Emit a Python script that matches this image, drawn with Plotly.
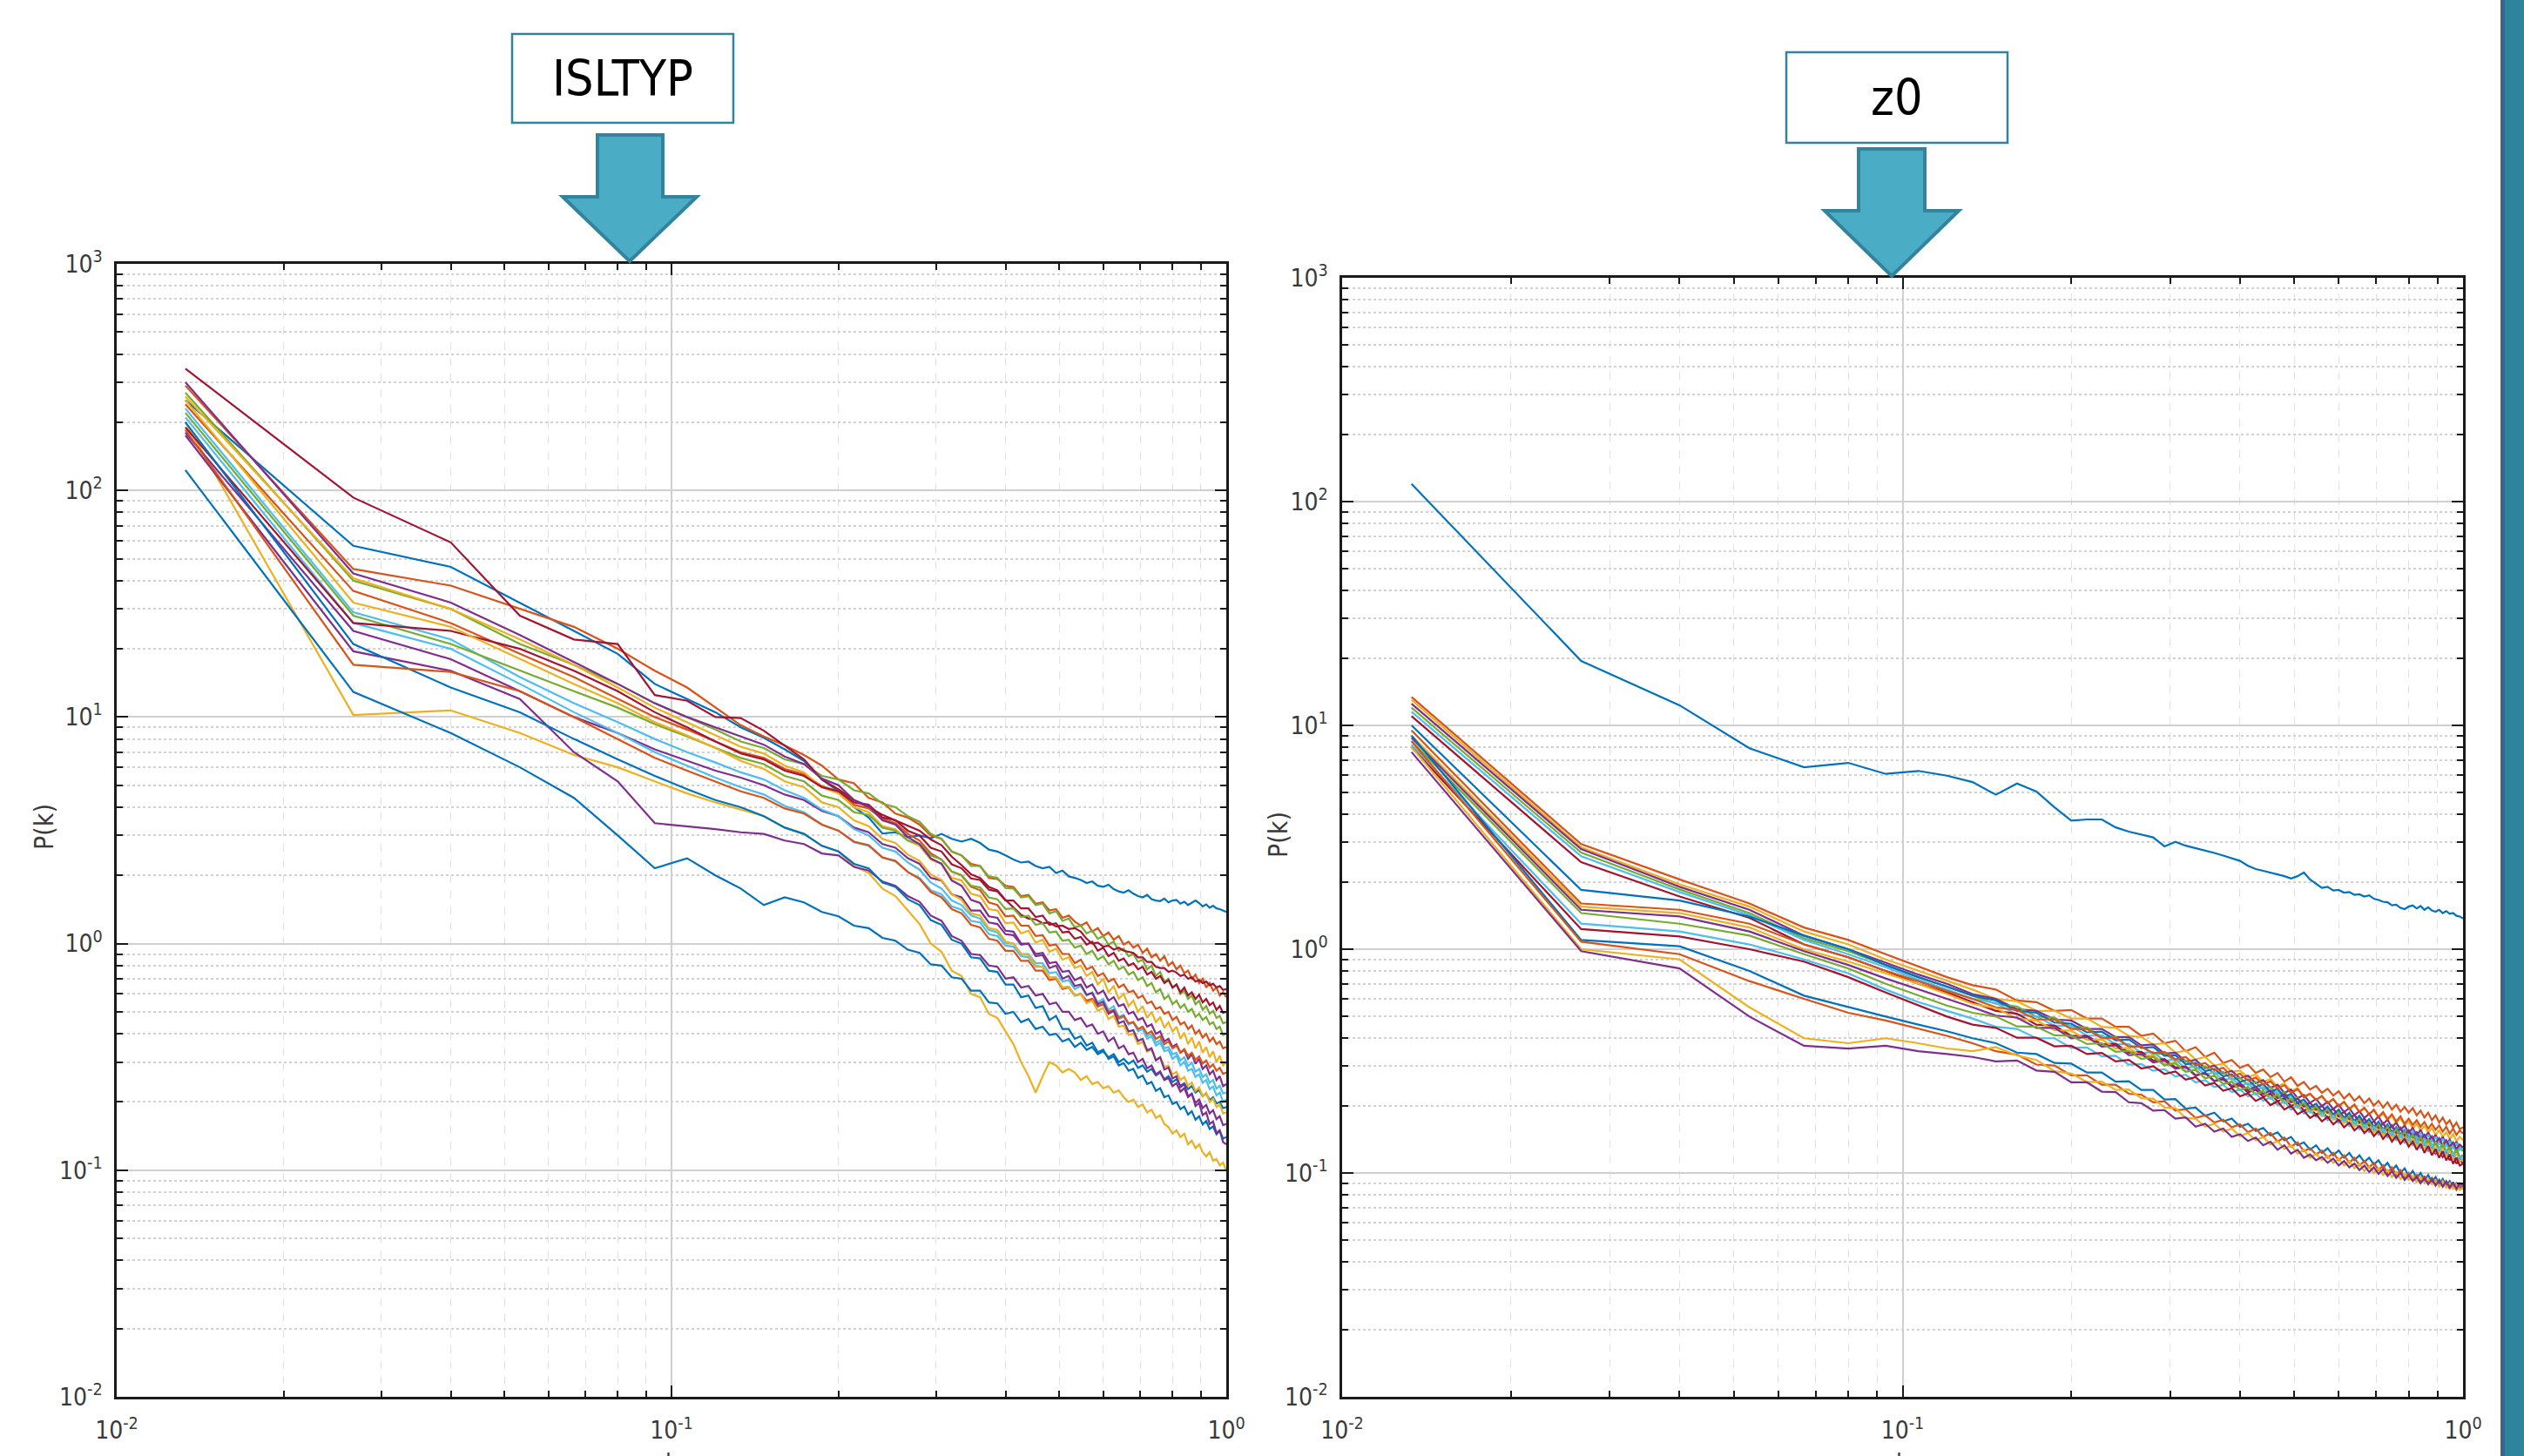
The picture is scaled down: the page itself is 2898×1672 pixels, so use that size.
import plotly.graph_objects as go

# ---------------------------------------------------------------- data
# wavenumber grid shared by every spectrum
k = [0.0133, 0.0267, 0.04, 0.0533, 0.0667, 0.08, 0.0933, 0.1067, 0.12, 0.1333,
     0.1467, 0.16, 0.1733, 0.1867, 0.2, 0.2133, 0.2267, 0.24, 0.2533, 0.2667,
     0.28, 0.2933, 0.3067, 0.32, 0.3333, 0.3467, 0.36, 0.3733, 0.3867, 0.4,
     0.4133, 0.4267, 0.44, 0.4533, 0.4667, 0.48, 0.4933, 0.5067, 0.52, 0.5333,
     0.5467, 0.56, 0.5733, 0.5867, 0.6, 0.6133, 0.6267, 0.64, 0.6533, 0.6667,
     0.68, 0.6933, 0.7067, 0.72, 0.7333, 0.7467, 0.76, 0.7733, 0.7867, 0.8,
     0.8133, 0.8267, 0.84, 0.8533, 0.8667, 0.88, 0.8933, 0.9067, 0.92, 0.9333,
     0.9467, 0.96, 0.9733, 0.9867, 1.0]

# P(k) spectra, ISLTYP perturbation members
isltyp_01 = [250, 57, 46, 32, 24, 19, 14, 12, 10.5, 9.0,
             8.1, 7.2, 6.4, 5.3, 4.7, 4.0, 3.6, 3.06, 3.1, 2.95,
             3.0, 2.92, 3.05, 2.9, 2.82, 2.9, 2.78, 2.6, 2.55, 2.45,
             2.35, 2.28, 2.3, 2.2, 2.15, 2.18, 2.05, 2.1, 1.98, 1.95,
             1.91, 1.85, 1.88, 1.8, 1.78, 1.82, 1.74, 1.7, 1.68, 1.72,
             1.66, 1.62, 1.6, 1.64, 1.57, 1.55, 1.54, 1.58, 1.52, 1.55,
             1.56, 1.5, 1.53, 1.48, 1.52, 1.55, 1.51, 1.46, 1.49, 1.44,
             1.47, 1.43, 1.42, 1.4, 1.38]
isltyp_02 = [290, 45, 38, 30, 25, 20, 16, 13.5, 11, 9.2,
             8.2, 7.5, 6.8, 6.1, 5.3, 5.1, 4.4, 4.2, 3.75, 3.6,
             3.35, 3.0, 2.9, 2.55, 2.45, 2.25, 2.2, 1.95, 1.93, 1.8,
             1.78, 1.62, 1.64, 1.5, 1.52, 1.4, 1.42, 1.3, 1.33, 1.25,
             1.2, 1.24, 1.13, 1.17, 1.08, 1.12, 1.04, 1.08, 0.99, 1.02,
             0.96, 0.99, 0.91, 0.95, 0.87, 0.9, 0.84, 0.88, 0.8, 0.83,
             0.77, 0.8, 0.74, 0.76, 0.7, 0.73, 0.67, 0.7, 0.64, 0.67,
             0.62, 0.64, 0.59, 0.61, 0.58]
isltyp_03 = [200, 10.2, 10.7, 8.5, 6.8, 6.0, 5.2, 4.6, 4.2, 3.9,
             3.65, 3.25, 3.05, 2.7, 2.55, 2.2, 2.05, 1.75, 1.62, 1.4,
             1.22, 1.0, 0.92, 0.76, 0.72, 0.6, 0.58, 0.49, 0.47, 0.41,
             0.36, 0.3, 0.26, 0.22, 0.26, 0.3, 0.29, 0.27, 0.28, 0.27,
             0.25, 0.26, 0.24, 0.245, 0.23, 0.235, 0.22, 0.225, 0.21, 0.2,
             0.205, 0.19, 0.195, 0.18, 0.185, 0.17, 0.175, 0.16, 0.155, 0.145,
             0.15, 0.14, 0.145, 0.13, 0.135, 0.125, 0.13, 0.12, 0.115, 0.12,
             0.11, 0.112, 0.105, 0.108, 0.1]
isltyp_04 = [180, 24, 18, 13, 10, 8.5, 7.2, 6.4, 5.8, 5.4,
             5.0, 4.55, 4.3, 3.85, 3.65, 3.25, 3.1, 2.75, 2.65, 2.38,
             2.25, 1.95, 1.9, 1.65, 1.6, 1.4, 1.4, 1.24, 1.22, 1.1,
             1.09, 0.99, 1.0, 0.9, 0.91, 0.82, 0.83, 0.75, 0.76, 0.69,
             0.71, 0.64, 0.66, 0.6, 0.62, 0.56, 0.58, 0.53, 0.54, 0.49,
             0.5, 0.46, 0.47, 0.43, 0.44, 0.4, 0.41, 0.37, 0.38, 0.35,
             0.36, 0.33, 0.34, 0.31, 0.325, 0.295, 0.31, 0.28, 0.29, 0.265,
             0.275, 0.25, 0.26, 0.235, 0.24]
isltyp_05 = [270, 40, 30, 21, 17, 14, 11.5, 10, 8.8, 7.8,
             7.3, 6.5, 6.2, 5.5, 5.3, 4.75, 4.6, 4.15, 4.0, 3.65,
             3.45, 3.05, 2.9, 2.55, 2.45, 2.2, 2.2, 1.98, 1.95, 1.76,
             1.75, 1.6, 1.62, 1.48, 1.5, 1.36, 1.39, 1.26, 1.29, 1.18,
             1.2, 1.11, 1.14, 1.05, 1.08, 0.99, 1.02, 0.93, 0.95, 0.88,
             0.9, 0.83, 0.85, 0.77, 0.8, 0.72, 0.75, 0.68, 0.7, 0.64,
             0.66, 0.6, 0.62, 0.57, 0.59, 0.54, 0.56, 0.51, 0.53, 0.49,
             0.505, 0.47, 0.48, 0.445, 0.45]
isltyp_06 = [230, 29, 22, 15, 11.5, 9.5, 8, 7, 6.3, 5.7,
             5.3, 4.75, 4.4, 3.9, 3.65, 3.2, 3.0, 2.65, 2.55, 2.28,
             2.12, 1.86, 1.75, 1.55, 1.48, 1.33, 1.29, 1.15, 1.12, 1.01,
             1.0, 0.9, 0.9, 0.82, 0.82, 0.74, 0.75, 0.68, 0.69, 0.63,
             0.65, 0.59, 0.61, 0.55, 0.57, 0.51, 0.53, 0.475, 0.485, 0.44,
             0.45, 0.41, 0.42, 0.38, 0.39, 0.355, 0.365, 0.335, 0.34, 0.31,
             0.32, 0.29, 0.3, 0.275, 0.28, 0.258, 0.265, 0.243, 0.25, 0.228,
             0.234, 0.214, 0.22, 0.2, 0.205]
isltyp_07 = [345, 93, 59, 28, 22, 21, 12.5, 11.8, 10, 9.9,
             8.7, 7.5, 6.5, 5.3, 4.8, 4.3, 4.0, 3.7, 3.5, 3.3,
             3.15, 2.88, 2.72, 2.42, 2.22, 2.02, 1.95, 1.78, 1.72, 1.56,
             1.44, 1.34, 1.29, 1.28, 1.23, 1.24, 1.19, 1.2, 1.16, 1.17,
             1.13, 1.05, 1.0, 1.01, 0.97, 0.98, 0.94, 0.96, 0.93, 0.92,
             0.91, 0.87, 0.87, 0.83, 0.83, 0.79, 0.78, 0.78, 0.75, 0.76,
             0.745, 0.72, 0.73, 0.7, 0.71, 0.68, 0.69, 0.67, 0.68, 0.655,
             0.665, 0.64, 0.65, 0.625, 0.63]
isltyp_08 = [123, 12.9, 8.5, 6.0, 4.4, 3.0, 2.15, 2.38, 2.0, 1.75,
             1.48, 1.6, 1.52, 1.38, 1.32, 1.2, 1.17, 1.06, 1.03, 0.94,
             0.91, 0.81, 0.8, 0.71, 0.7, 0.62, 0.62, 0.55, 0.545, 0.49,
             0.5, 0.45, 0.465, 0.42, 0.43, 0.395, 0.4, 0.37, 0.38, 0.35,
             0.365, 0.34, 0.35, 0.325, 0.335, 0.315, 0.325, 0.3, 0.31, 0.295,
             0.305, 0.283, 0.29, 0.272, 0.28, 0.262, 0.27, 0.252, 0.26, 0.245,
             0.252, 0.236, 0.242, 0.228, 0.235, 0.22, 0.226, 0.212, 0.218, 0.204,
             0.21, 0.197, 0.2, 0.188, 0.19]
isltyp_09 = [240, 36, 26, 19, 15, 12, 10, 8.8, 7.8, 7.0,
             6.6, 5.9, 5.6, 4.95, 4.7, 4.1, 3.95, 3.55, 3.4, 3.05,
             2.85, 2.5, 2.35, 2.08, 2.0, 1.78, 1.72, 1.52, 1.48, 1.32,
             1.33, 1.2, 1.2, 1.08, 1.09, 0.98, 0.99, 0.9, 0.9, 0.82,
             0.85, 0.77, 0.79, 0.72, 0.74, 0.68, 0.7, 0.64, 0.66, 0.61,
             0.62, 0.575, 0.59, 0.545, 0.555, 0.515, 0.525, 0.49, 0.5, 0.46,
             0.475, 0.44, 0.45, 0.42, 0.435, 0.4, 0.415, 0.385, 0.4, 0.37,
             0.385, 0.36, 0.37, 0.345, 0.35]
isltyp_10 = [260, 41, 30, 22, 17, 13.5, 11, 9.5, 8.3, 7.4,
             6.9, 6.1, 5.7, 4.9, 4.6, 4.0, 3.8, 3.3, 3.2, 2.85,
             2.7, 2.35, 2.25, 1.95, 1.9, 1.66, 1.62, 1.42, 1.4, 1.23,
             1.24, 1.11, 1.14, 1.01, 1.04, 0.92, 0.95, 0.85, 0.87, 0.78,
             0.8, 0.72, 0.75, 0.66, 0.7, 0.61, 0.65, 0.57, 0.6, 0.53,
             0.56, 0.5, 0.53, 0.47, 0.5, 0.45, 0.475, 0.425, 0.45, 0.41,
             0.43, 0.38, 0.405, 0.36, 0.385, 0.345, 0.37, 0.33, 0.35, 0.315,
             0.335, 0.3, 0.32, 0.29, 0.3]
isltyp_11 = [175, 19.5, 16, 12, 7, 5.2, 3.4, 3.3, 3.2, 3.1,
             3.05, 2.85, 2.75, 2.5, 2.45, 2.18, 2.1, 1.88, 1.8, 1.62,
             1.53, 1.33, 1.26, 1.08, 1.03, 0.9, 0.89, 0.8, 0.79, 0.7,
             0.71, 0.64, 0.65, 0.59, 0.6, 0.54, 0.55, 0.5, 0.5, 0.46,
             0.47, 0.43, 0.44, 0.4, 0.41, 0.37, 0.385, 0.345, 0.355, 0.325,
             0.33, 0.3, 0.31, 0.282, 0.29, 0.265, 0.273, 0.25, 0.255, 0.235,
             0.242, 0.222, 0.23, 0.21, 0.217, 0.198, 0.205, 0.188, 0.194, 0.178,
             0.184, 0.168, 0.173, 0.158, 0.16]
isltyp_12 = [220, 28, 21, 16, 13, 11, 9.3, 8.2, 7.3, 6.6,
             6.2, 5.5, 5.2, 4.5, 4.3, 3.8, 3.7, 3.25, 3.15, 2.85,
             2.75, 2.45, 2.35, 2.08, 2.0, 1.8, 1.77, 1.6, 1.57, 1.42,
             1.43, 1.31, 1.33, 1.21, 1.23, 1.12, 1.13, 1.03, 1.04, 0.96,
             0.98, 0.9, 0.93, 0.85, 0.88, 0.81, 0.84, 0.77, 0.79, 0.73,
             0.75, 0.69, 0.71, 0.65, 0.67, 0.61, 0.63, 0.57, 0.59, 0.54,
             0.56, 0.52, 0.54, 0.5, 0.515, 0.475, 0.49, 0.46, 0.475, 0.44,
             0.45, 0.42, 0.43, 0.395, 0.4]
isltyp_13 = [210, 26, 20, 14, 10.5, 8.5, 7, 6.1, 5.4, 4.9,
             4.55, 4.05, 3.8, 3.35, 3.15, 2.8, 2.7, 2.4, 2.3, 2.07,
             1.95, 1.72, 1.65, 1.46, 1.41, 1.26, 1.24, 1.1, 1.08, 0.98,
             0.97, 0.88, 0.87, 0.79, 0.79, 0.71, 0.71, 0.64, 0.645, 0.59,
             0.6, 0.555, 0.57, 0.525, 0.54, 0.495, 0.51, 0.465, 0.475, 0.44,
             0.45, 0.415, 0.42, 0.39, 0.4, 0.365, 0.375, 0.345, 0.35, 0.325,
             0.33, 0.305, 0.315, 0.288, 0.298, 0.272, 0.28, 0.258, 0.265, 0.243,
             0.25, 0.229, 0.236, 0.218, 0.22]
isltyp_14 = [190, 26, 24, 20, 16, 13, 10.5, 9, 7.8, 6.9,
             6.5, 5.8, 5.5, 4.9, 4.7, 4.2, 4.1, 3.6, 3.5, 3.15,
             3.0, 2.65, 2.55, 2.24, 2.15, 1.94, 1.91, 1.73, 1.7, 1.55,
             1.55, 1.43, 1.43, 1.31, 1.33, 1.21, 1.23, 1.12, 1.13, 1.05,
             1.07, 0.99, 1.02, 0.93, 0.96, 0.88, 0.91, 0.84, 0.86, 0.8,
             0.82, 0.77, 0.79, 0.73, 0.75, 0.7, 0.72, 0.67, 0.69, 0.64,
             0.66, 0.61, 0.64, 0.59, 0.61, 0.57, 0.595, 0.55, 0.57, 0.535,
             0.55, 0.51, 0.53, 0.495, 0.5]
isltyp_15 = [200, 21, 13.5, 10.5, 8, 6.5, 5.5, 4.8, 4.3, 4.0,
             3.65, 3.25, 3.05, 2.7, 2.55, 2.25, 2.15, 1.86, 1.78, 1.57,
             1.48, 1.27, 1.21, 1.04, 1.0, 0.87, 0.86, 0.76, 0.75, 0.66,
             0.66, 0.58, 0.59, 0.52, 0.53, 0.46, 0.48, 0.42, 0.42, 0.38,
             0.39, 0.355, 0.365, 0.332, 0.34, 0.31, 0.318, 0.29, 0.297, 0.275,
             0.28, 0.255, 0.262, 0.24, 0.245, 0.224, 0.23, 0.21, 0.214, 0.196,
             0.2, 0.186, 0.191, 0.176, 0.182, 0.167, 0.173, 0.159, 0.165, 0.152,
             0.156, 0.144, 0.149, 0.138, 0.14]
isltyp_16 = [185, 17, 15.8, 13, 10, 8, 6.6, 5.8, 5.2, 4.7,
             4.4, 3.95, 3.75, 3.35, 3.15, 2.82, 2.72, 2.4, 2.32, 2.07,
             1.93, 1.69, 1.6, 1.42, 1.36, 1.21, 1.18, 1.05, 1.03, 0.93,
             0.93, 0.84, 0.84, 0.76, 0.76, 0.69, 0.7, 0.63, 0.64, 0.59,
             0.6, 0.56, 0.57, 0.53, 0.54, 0.5, 0.51, 0.47, 0.48, 0.445,
             0.45, 0.42, 0.43, 0.4, 0.41, 0.38, 0.39, 0.36, 0.37, 0.345,
             0.355, 0.33, 0.342, 0.32, 0.33, 0.307, 0.318, 0.296, 0.305, 0.284,
             0.293, 0.275, 0.283, 0.266, 0.27]
isltyp_17 = [250, 32, 25, 18, 14, 11.5, 9.5, 8.3, 7.3, 6.4,
             5.9, 5.2, 4.9, 4.2, 4.0, 3.5, 3.3, 2.9, 2.78, 2.47,
             2.32, 2.02, 1.91, 1.65, 1.56, 1.36, 1.33, 1.17, 1.15, 1.02,
             1.0, 0.9, 0.89, 0.8, 0.79, 0.71, 0.71, 0.64, 0.645, 0.59,
             0.6, 0.545, 0.56, 0.505, 0.52, 0.465, 0.48, 0.43, 0.435, 0.395,
             0.4, 0.36, 0.368, 0.333, 0.34, 0.308, 0.315, 0.286, 0.29, 0.265,
             0.272, 0.25, 0.258, 0.236, 0.244, 0.224, 0.232, 0.212, 0.22, 0.2,
             0.207, 0.19, 0.195, 0.178, 0.18]
isltyp_18 = [300, 43, 32, 23, 17.5, 14, 11.5, 10, 9, 8.2,
             7.55, 6.7, 6.2, 5.35, 5.0, 4.3, 4.05, 3.5, 3.35, 2.95,
             2.75, 2.38, 2.25, 1.9, 1.8, 1.56, 1.51, 1.32, 1.3, 1.14,
             1.13, 1.0, 1.0, 0.88, 0.89, 0.78, 0.8, 0.7, 0.72, 0.65,
             0.66, 0.595, 0.605, 0.54, 0.555, 0.49, 0.505, 0.445, 0.455, 0.41,
             0.415, 0.372, 0.38, 0.338, 0.345, 0.305, 0.315, 0.278, 0.284, 0.254,
             0.26, 0.232, 0.24, 0.212, 0.218, 0.192, 0.198, 0.175, 0.18, 0.16,
             0.164, 0.146, 0.15, 0.133, 0.13]

# P(k) spectra, z0 perturbation members
z0_00 = [120, 19.4, 12.3, 7.9, 6.5, 6.8, 6.07, 6.26, 5.96, 5.58,
         4.9, 5.5, 5.06, 4.3, 3.75, 3.8, 3.8, 3.5, 3.35, 3.25,
         3.16, 2.88, 3.02, 2.9, 2.83, 2.76, 2.69, 2.62, 2.55, 2.48,
         2.36, 2.28, 2.24, 2.2, 2.17, 2.12, 2.07, 2.12, 2.2, 2.05,
         1.96, 1.88, 1.9, 1.83, 1.84, 1.79, 1.8, 1.75, 1.76, 1.72,
         1.74, 1.68, 1.66, 1.63, 1.62, 1.57, 1.58, 1.53, 1.51, 1.55,
         1.57, 1.52, 1.56, 1.5, 1.54, 1.49, 1.47, 1.5, 1.45, 1.48,
         1.44, 1.45, 1.41, 1.4, 1.37]
z0_01 = [13.4, 2.95, 2.05, 1.6, 1.25, 1.1, 0.95, 0.84, 0.75, 0.69,
         0.66, 0.59, 0.58, 0.53, 0.535, 0.49, 0.49, 0.45, 0.45, 0.41,
         0.42, 0.38, 0.39, 0.35, 0.365, 0.33, 0.345, 0.31, 0.32, 0.295,
         0.305, 0.28, 0.29, 0.268, 0.28, 0.256, 0.268, 0.245, 0.255, 0.236,
         0.245, 0.228, 0.238, 0.222, 0.232, 0.215, 0.226, 0.21, 0.22, 0.205,
         0.215, 0.2, 0.21, 0.196, 0.207, 0.192, 0.202, 0.188, 0.197, 0.186,
         0.195, 0.181, 0.19, 0.177, 0.186, 0.172, 0.181, 0.168, 0.177, 0.165,
         0.172, 0.16, 0.168, 0.157, 0.16]
z0_02 = [13, 2.85, 1.95, 1.55, 1.2, 1.05, 0.9, 0.8, 0.72, 0.66,
         0.6, 0.585, 0.53, 0.53, 0.49, 0.49, 0.45, 0.445, 0.41, 0.405,
         0.375, 0.38, 0.345, 0.352, 0.322, 0.33, 0.302, 0.308, 0.283, 0.287,
         0.268, 0.276, 0.255, 0.263, 0.243, 0.252, 0.232, 0.24, 0.22, 0.226,
         0.212, 0.22, 0.205, 0.214, 0.198, 0.208, 0.193, 0.202, 0.187, 0.195,
         0.183, 0.19, 0.177, 0.185, 0.172, 0.18, 0.167, 0.176, 0.163, 0.17,
         0.158, 0.166, 0.155, 0.162, 0.152, 0.159, 0.148, 0.155, 0.145, 0.152,
         0.142, 0.149, 0.139, 0.145, 0.14]
z0_03 = [12.5, 2.8, 1.9, 1.5, 1.15, 1.0, 0.87, 0.77, 0.7, 0.63,
         0.6, 0.54, 0.53, 0.485, 0.48, 0.44, 0.44, 0.405, 0.405, 0.372,
         0.375, 0.342, 0.345, 0.315, 0.32, 0.294, 0.302, 0.279, 0.286, 0.265,
         0.272, 0.252, 0.26, 0.24, 0.248, 0.228, 0.236, 0.216, 0.223, 0.206,
         0.214, 0.199, 0.208, 0.193, 0.202, 0.187, 0.195, 0.181, 0.189, 0.176,
         0.184, 0.17, 0.179, 0.165, 0.173, 0.16, 0.168, 0.156, 0.163, 0.151,
         0.159, 0.147, 0.156, 0.143, 0.152, 0.14, 0.148, 0.137, 0.145, 0.134,
         0.141, 0.131, 0.138, 0.128, 0.13]
z0_04 = [12, 2.7, 1.85, 1.45, 1.12, 0.98, 0.85, 0.75, 0.68, 0.62,
         0.57, 0.555, 0.5, 0.495, 0.45, 0.447, 0.405, 0.405, 0.368, 0.367,
         0.34, 0.343, 0.316, 0.318, 0.293, 0.299, 0.277, 0.283, 0.262, 0.266,
         0.248, 0.255, 0.236, 0.243, 0.224, 0.23, 0.212, 0.218, 0.2, 0.206,
         0.192, 0.2, 0.186, 0.194, 0.179, 0.188, 0.174, 0.182, 0.168, 0.175,
         0.163, 0.171, 0.159, 0.167, 0.155, 0.163, 0.151, 0.159, 0.147, 0.155,
         0.144, 0.151, 0.14, 0.147, 0.137, 0.144, 0.134, 0.141, 0.131, 0.137,
         0.128, 0.134, 0.124, 0.13, 0.125]
z0_05 = [11.5, 2.6, 1.8, 1.42, 1.1, 0.95, 0.83, 0.73, 0.66, 0.6,
         0.575, 0.51, 0.5, 0.455, 0.455, 0.41, 0.412, 0.375, 0.377, 0.343,
         0.347, 0.317, 0.322, 0.293, 0.3, 0.275, 0.282, 0.259, 0.266, 0.245,
         0.252, 0.234, 0.242, 0.224, 0.232, 0.214, 0.222, 0.205, 0.212, 0.196,
         0.203, 0.189, 0.197, 0.183, 0.191, 0.177, 0.185, 0.171, 0.179, 0.166,
         0.174, 0.161, 0.17, 0.157, 0.165, 0.153, 0.161, 0.149, 0.157, 0.146,
         0.154, 0.142, 0.151, 0.139, 0.148, 0.137, 0.145, 0.134, 0.142, 0.131,
         0.139, 0.128, 0.136, 0.127, 0.13]
z0_06 = [11, 2.45, 1.72, 1.38, 1.05, 0.92, 0.8, 0.7, 0.64, 0.58,
         0.53, 0.515, 0.46, 0.455, 0.41, 0.41, 0.376, 0.378, 0.345, 0.348,
         0.318, 0.323, 0.296, 0.299, 0.273, 0.279, 0.257, 0.263, 0.242, 0.246,
         0.229, 0.236, 0.219, 0.226, 0.209, 0.216, 0.199, 0.206, 0.19, 0.195,
         0.182, 0.189, 0.176, 0.183, 0.17, 0.177, 0.164, 0.171, 0.158, 0.165,
         0.153, 0.161, 0.149, 0.157, 0.145, 0.153, 0.141, 0.149, 0.137, 0.144,
         0.134, 0.14, 0.13, 0.136, 0.126, 0.132, 0.122, 0.128, 0.118, 0.124,
         0.114, 0.12, 0.11, 0.115, 0.11]
z0_07 = [10, 1.84, 1.65, 1.4, 1.15, 1.0, 0.85, 0.75, 0.68, 0.62,
         0.59, 0.53, 0.52, 0.47, 0.465, 0.425, 0.428, 0.392, 0.395, 0.362,
         0.365, 0.334, 0.336, 0.306, 0.31, 0.285, 0.292, 0.27, 0.276, 0.255,
         0.262, 0.242, 0.25, 0.23, 0.238, 0.218, 0.226, 0.206, 0.213, 0.196,
         0.204, 0.188, 0.198, 0.182, 0.192, 0.176, 0.186, 0.17, 0.18, 0.166,
         0.174, 0.16, 0.169, 0.155, 0.164, 0.15, 0.159, 0.146, 0.154, 0.142,
         0.149, 0.137, 0.146, 0.133, 0.142, 0.13, 0.138, 0.127, 0.135, 0.124,
         0.131, 0.12, 0.127, 0.117, 0.12]
z0_08 = [9.5, 1.6, 1.5, 1.3, 1.05, 0.92, 0.8, 0.72, 0.65, 0.6,
         0.55, 0.535, 0.485, 0.485, 0.44, 0.44, 0.4, 0.402, 0.367, 0.368,
         0.343, 0.348, 0.322, 0.33, 0.302, 0.31, 0.287, 0.295, 0.271, 0.278,
         0.259, 0.267, 0.248, 0.257, 0.238, 0.247, 0.228, 0.237, 0.218, 0.226,
         0.212, 0.221, 0.205, 0.214, 0.199, 0.208, 0.193, 0.202, 0.187, 0.196,
         0.183, 0.192, 0.178, 0.187, 0.174, 0.183, 0.17, 0.179, 0.166, 0.175,
         0.164, 0.172, 0.161, 0.169, 0.158, 0.166, 0.156, 0.163, 0.153, 0.161,
         0.15, 0.158, 0.148, 0.155, 0.15]
z0_09 = [9, 1.55, 1.45, 1.25, 1.0, 0.88, 0.78, 0.7, 0.63, 0.57,
         0.545, 0.49, 0.48, 0.435, 0.432, 0.393, 0.395, 0.36, 0.362, 0.333,
         0.336, 0.307, 0.312, 0.284, 0.289, 0.265, 0.272, 0.25, 0.256, 0.235,
         0.242, 0.224, 0.232, 0.214, 0.222, 0.204, 0.212, 0.195, 0.202, 0.186,
         0.193, 0.179, 0.187, 0.173, 0.181, 0.167, 0.175, 0.161, 0.169, 0.156,
         0.164, 0.151, 0.16, 0.147, 0.156, 0.143, 0.151, 0.139, 0.147, 0.136,
         0.143, 0.132, 0.14, 0.128, 0.137, 0.125, 0.133, 0.122, 0.13, 0.119,
         0.126, 0.116, 0.122, 0.113, 0.115]
z0_10 = [8.8, 1.5, 1.4, 1.2, 0.98, 0.85, 0.74, 0.66, 0.6, 0.55,
         0.505, 0.495, 0.445, 0.445, 0.4, 0.405, 0.367, 0.372, 0.336, 0.34,
         0.312, 0.318, 0.292, 0.298, 0.272, 0.281, 0.258, 0.266, 0.245, 0.252,
         0.234, 0.243, 0.225, 0.234, 0.216, 0.225, 0.207, 0.215, 0.198, 0.206,
         0.192, 0.2, 0.186, 0.194, 0.179, 0.188, 0.174, 0.182, 0.168, 0.175,
         0.163, 0.171, 0.159, 0.167, 0.155, 0.163, 0.151, 0.159, 0.147, 0.155,
         0.145, 0.152, 0.141, 0.148, 0.139, 0.146, 0.136, 0.143, 0.133, 0.14,
         0.131, 0.137, 0.128, 0.134, 0.13]
z0_11 = [8.5, 1.45, 1.3, 1.15, 0.95, 0.82, 0.7, 0.62, 0.56, 0.52,
         0.5, 0.452, 0.45, 0.412, 0.41, 0.377, 0.38, 0.348, 0.352, 0.323,
         0.33, 0.302, 0.309, 0.283, 0.289, 0.265, 0.272, 0.25, 0.256, 0.234,
         0.242, 0.225, 0.233, 0.216, 0.224, 0.207, 0.215, 0.198, 0.206, 0.19,
         0.198, 0.184, 0.192, 0.178, 0.186, 0.172, 0.18, 0.166, 0.174, 0.161,
         0.169, 0.156, 0.165, 0.152, 0.161, 0.148, 0.157, 0.145, 0.153, 0.141,
         0.148, 0.137, 0.145, 0.133, 0.142, 0.13, 0.138, 0.127, 0.135, 0.124,
         0.131, 0.12, 0.127, 0.118, 0.12]
z0_12 = [8.2, 1.3, 1.2, 1.05, 0.9, 0.78, 0.66, 0.58, 0.53, 0.49,
         0.45, 0.44, 0.4, 0.4, 0.362, 0.364, 0.332, 0.334, 0.305, 0.307,
         0.286, 0.291, 0.27, 0.275, 0.254, 0.26, 0.242, 0.248, 0.23, 0.236,
         0.22, 0.227, 0.21, 0.218, 0.201, 0.209, 0.192, 0.2, 0.184, 0.19,
         0.178, 0.186, 0.172, 0.18, 0.167, 0.175, 0.162, 0.17, 0.157, 0.164,
         0.154, 0.161, 0.149, 0.157, 0.145, 0.152, 0.141, 0.148, 0.137, 0.144,
         0.134, 0.14, 0.13, 0.137, 0.127, 0.134, 0.124, 0.13, 0.121, 0.127,
         0.118, 0.123, 0.114, 0.119, 0.115]
z0_13 = [8.0, 1.23, 1.14, 1.0, 0.88, 0.75, 0.64, 0.56, 0.5, 0.46,
         0.445, 0.402, 0.402, 0.368, 0.37, 0.34, 0.344, 0.315, 0.32, 0.293,
         0.3, 0.277, 0.284, 0.261, 0.268, 0.246, 0.253, 0.233, 0.239, 0.22,
         0.227, 0.21, 0.218, 0.201, 0.209, 0.192, 0.2, 0.183, 0.19, 0.176,
         0.183, 0.17, 0.178, 0.165, 0.173, 0.16, 0.168, 0.155, 0.162, 0.151,
         0.158, 0.146, 0.154, 0.142, 0.15, 0.138, 0.146, 0.135, 0.142, 0.131,
         0.138, 0.127, 0.135, 0.123, 0.132, 0.12, 0.128, 0.117, 0.125, 0.114,
         0.121, 0.11, 0.117, 0.108, 0.11]
z0_14 = [9.0, 1.1, 1.03, 0.8, 0.62, 0.55, 0.5, 0.46, 0.43, 0.4,
         0.38, 0.345, 0.34, 0.31, 0.308, 0.281, 0.281, 0.256, 0.257, 0.235,
         0.235, 0.213, 0.214, 0.194, 0.196, 0.18, 0.186, 0.17, 0.175, 0.161,
         0.166, 0.154, 0.159, 0.147, 0.152, 0.14, 0.145, 0.133, 0.137, 0.127,
         0.133, 0.123, 0.129, 0.12, 0.126, 0.117, 0.123, 0.114, 0.12, 0.112,
         0.117, 0.109, 0.114, 0.106, 0.111, 0.103, 0.108, 0.1, 0.105, 0.097,
         0.102, 0.095, 0.1, 0.093, 0.098, 0.091, 0.096, 0.089, 0.094, 0.088,
         0.092, 0.086, 0.09, 0.085, 0.087]
z0_15 = [8.5, 1.08, 0.95, 0.72, 0.6, 0.52, 0.48, 0.44, 0.41, 0.38,
         0.35, 0.338, 0.305, 0.302, 0.273, 0.273, 0.248, 0.248, 0.226, 0.224,
         0.207, 0.209, 0.19, 0.193, 0.176, 0.181, 0.168, 0.173, 0.16, 0.165,
         0.152, 0.158, 0.145, 0.151, 0.138, 0.144, 0.131, 0.137, 0.125, 0.129,
         0.121, 0.126, 0.117, 0.123, 0.114, 0.12, 0.111, 0.117, 0.108, 0.113,
         0.106, 0.111, 0.103, 0.108, 0.1, 0.106, 0.098, 0.103, 0.095, 0.1,
         0.094, 0.098, 0.091, 0.097, 0.09, 0.095, 0.088, 0.093, 0.087, 0.091,
         0.085, 0.09, 0.084, 0.088, 0.085]
z0_16 = [8.0, 1.0, 0.9, 0.55, 0.4, 0.38, 0.4, 0.38, 0.36, 0.35,
         0.365, 0.335, 0.32, 0.285, 0.278, 0.255, 0.256, 0.235, 0.236, 0.216,
         0.215, 0.196, 0.195, 0.176, 0.175, 0.161, 0.166, 0.153, 0.158, 0.146,
         0.151, 0.14, 0.145, 0.134, 0.139, 0.128, 0.133, 0.122, 0.127, 0.117,
         0.122, 0.114, 0.119, 0.111, 0.116, 0.108, 0.113, 0.105, 0.11, 0.102,
         0.107, 0.1, 0.105, 0.098, 0.103, 0.096, 0.101, 0.094, 0.099, 0.093,
         0.097, 0.091, 0.096, 0.09, 0.094, 0.089, 0.093, 0.087, 0.092, 0.086,
         0.09, 0.085, 0.089, 0.084, 0.086]
z0_17 = [7.6, 0.98, 0.82, 0.5, 0.37, 0.36, 0.37, 0.35, 0.34, 0.33,
         0.315, 0.318, 0.287, 0.283, 0.254, 0.254, 0.231, 0.23, 0.207, 0.205,
         0.19, 0.191, 0.175, 0.177, 0.161, 0.166, 0.153, 0.158, 0.145, 0.149,
         0.139, 0.144, 0.133, 0.138, 0.127, 0.133, 0.122, 0.127, 0.117, 0.121,
         0.114, 0.118, 0.111, 0.116, 0.108, 0.113, 0.106, 0.11, 0.103, 0.108,
         0.101, 0.106, 0.099, 0.104, 0.097, 0.102, 0.095, 0.1, 0.093, 0.098,
         0.092, 0.096, 0.09, 0.095, 0.089, 0.094, 0.088, 0.093, 0.087, 0.092,
         0.086, 0.091, 0.085, 0.09, 0.088]

x_tick_vals = [0.01, 0.1, 1]
x_tick_text = ["10<sup>-2</sup>", "10<sup>-1</sup>", "10<sup>0</sup>"]
y_tick_vals = [0.01, 0.1, 1, 10, 100, 1000]
y_tick_text = ["10<sup>-2</sup>", "10<sup>-1</sup>", "10<sup>0</sup>",
               "10<sup>1</sup>", "10<sup>2</sup>", "10<sup>3</sup>"]
panel_titles = ["ISLTYP", "z0"]
y_label = "P(k)"
x_label = "k"

# ---------------------------------------------------------------- style
W, H = 2898, 1672
LINE_COLORS = ["#0072BD", "#D95319", "#EDB120", "#7E2F8E",
               "#77AC30", "#4DBEEE", "#A2142F"]
TICK_FONT = dict(family="DejaVu Sans Condensed, Liberation Sans Narrow, DejaVu Sans",
                 size=28, color="#3a3a3a")
BOX_FONT = dict(family="Liberation Sans Narrow, DejaVu Sans Condensed, Liberation Sans",
                size=57, color="#000000")
TEAL_EDGE = "#31849B"
TEAL_FILL = "#4BACC6"

isltyp_series = [isltyp_01, isltyp_02, isltyp_03, isltyp_04, isltyp_05, isltyp_06,
                 isltyp_07, isltyp_08, isltyp_09, isltyp_10, isltyp_11, isltyp_12,
                 isltyp_13, isltyp_14, isltyp_15, isltyp_16, isltyp_17, isltyp_18]
z0_series = [z0_00, z0_01, z0_02, z0_03, z0_04, z0_05, z0_06, z0_07, z0_08,
             z0_09, z0_10, z0_11, z0_12, z0_13, z0_14, z0_15, z0_16, z0_17]


def px(x):
    return x / W


def py(y):
    return 1 - y / H


minor_vals = [m * 10.0 ** d for d in range(-2, 3) for m in range(2, 10)]

fig = go.Figure()
for i, vals in enumerate(isltyp_series):
    fig.add_trace(go.Scatter(x=k, y=vals, mode="lines", xaxis="x", yaxis="y",
                             line=dict(color=LINE_COLORS[i % 7], width=2.2),
                             showlegend=False, hoverinfo="skip"))
for i, vals in enumerate(z0_series):
    fig.add_trace(go.Scatter(x=k, y=vals, mode="lines", xaxis="x2", yaxis="y2",
                             line=dict(color=LINE_COLORS[i % 7], width=2.2),
                             showlegend=False, hoverinfo="skip"))


def log_axis(domain, rng, tickvals, ticktext, anchor, is_x):
    return dict(
        type="log", range=rng, domain=domain, anchor=anchor, automargin=False,
        showline=True, linecolor="#1a1a1a", linewidth=2.5, mirror="allticks",
        ticks="inside", ticklen=13, tickwidth=2, tickcolor="#1a1a1a",
        tickmode="array", tickvals=tickvals, ticktext=ticktext,
        tickfont=TICK_FONT, ticklabelstandoff=12 if is_x else 8,
        showgrid=True, gridcolor="#d0d0d0", gridwidth=1.6, zeroline=False,
        minor=dict(tickmode="array", tickvals=minor_vals, ticks="inside",
                   ticklen=7, tickwidth=1.5, tickcolor="#1a1a1a",
                   showgrid=True,
                   gridcolor="#e1e1e1" if is_x else "#d2d2d2",
                   gridwidth=1.2 if is_x else 1.5,
                   griddash="dash" if is_x else "dot"),
    )


left_x = [px(134), px(1408)]
right_x = [px(1541), px(2828)]
left_y = [py(1604), py(303)]
right_y = [py(1604), py(319)]

fig.update_layout(
    width=W, height=H, autosize=False,
    margin=dict(l=0, r=0, t=0, b=0, autoexpand=False),
    paper_bgcolor="white", plot_bgcolor="white",
    showlegend=False,
    xaxis=log_axis(left_x, [-2, 0], x_tick_vals, x_tick_text, "y", True),
    yaxis=log_axis(left_y, [-2, 3], y_tick_vals, y_tick_text, "x", False),
    xaxis2=log_axis(right_x, [-2, 0], x_tick_vals, x_tick_text, "y2", True),
    yaxis2=log_axis(right_y, [-2, 3], y_tick_vals, y_tick_text, "x2", False),
)

shapes = []
annotations = []

# label boxes with down arrows pointing at each panel
boxes = [
    dict(x0=588, x1=842, y0=39, y1=141, shaft=(686, 761), top=155,
         neck=226, head=(646, 800), tip=(723, 300)),
    dict(x0=2051, x1=2305, y0=60, y1=164, shaft=(2134, 2210), top=171,
         neck=242, head=(2095, 2249), tip=(2172, 317)),
]
for title, b in zip(panel_titles, boxes):
    shapes.append(dict(type="rect", xref="paper", yref="paper",
                       x0=px(b["x0"]), x1=px(b["x1"]), y0=py(b["y1"]), y1=py(b["y0"]),
                       line=dict(color=TEAL_EDGE, width=2.5), fillcolor="white",
                       layer="above"))
    annotations.append(dict(xref="paper", yref="paper",
                            x=px((b["x0"] + b["x1"]) / 2), y=py((b["y0"] + b["y1"]) / 2),
                            text=title, showarrow=False, font=BOX_FONT,
                            xanchor="center", yanchor="middle"))
    s0, s1 = b["shaft"]
    h0, h1 = b["head"]
    tx, ty = b["tip"]
    path = (f"M {px(s0)} {py(b['top'])} L {px(s1)} {py(b['top'])} "
            f"L {px(s1)} {py(b['neck'])} L {px(h1)} {py(b['neck'])} "
            f"L {px(tx)} {py(ty)} L {px(h0)} {py(b['neck'])} "
            f"L {px(s0)} {py(b['neck'])} Z")
    shapes.append(dict(type="path", xref="paper", yref="paper", path=path,
                       fillcolor=TEAL_FILL, line=dict(color=TEAL_EDGE, width=4),
                       layer="above"))

# slide side band on the right edge
shapes.append(dict(type="rect", xref="paper", yref="paper",
                   x0=px(2871), x1=1, y0=0, y1=1,
                   fillcolor="#2E849C", line=dict(width=0), layer="above"))
shapes.append(dict(type="rect", xref="paper", yref="paper",
                   x0=px(2871), x1=px(2876), y0=0, y1=1,
                   fillcolor="#3A6590", line=dict(width=0), layer="above"))

# axis titles
for xc, yc in [(50, 950), (1467, 959)]:
    annotations.append(dict(xref="paper", yref="paper", x=px(xc), y=py(yc),
                            text=y_label, showarrow=False, textangle=-90,
                            font=dict(family=TICK_FONT["family"], size=30, color="#3a3a3a"),
                            xanchor="center", yanchor="middle"))
for xc in [771, 2184]:
    annotations.append(dict(xref="paper", yref="paper", x=px(xc), y=py(1662),
                            text=x_label, showarrow=False,
                            font=dict(family=TICK_FONT["family"], size=28, color="#3a3a3a"),
                            xanchor="center", yanchor="top"))

fig.update_layout(shapes=shapes, annotations=annotations)

fig.write_html("out.html", config={"displayModeBar": False, "responsive": False},
               post_script="document.body.style.margin='0';document.body.style.overflow='hidden';")
